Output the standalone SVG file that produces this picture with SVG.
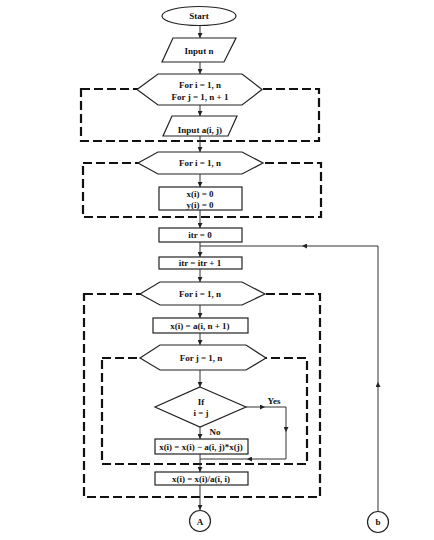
<svg xmlns="http://www.w3.org/2000/svg" width="434" height="540" viewBox="0 0 434 540">
<defs>
<marker id="ah" viewBox="0 0 6 6" refX="6" refY="3" markerWidth="5" markerHeight="5" markerUnits="userSpaceOnUse" orient="auto">
<path d="M0,0 L6,3 L0,6 z" fill="#222"/>
</marker>
<style>
.n{fill:#fff;stroke:#222;stroke-width:1.2}
.t{font-family:"Liberation Serif",serif;font-weight:bold;font-size:9px;fill:#111;text-anchor:middle}
.c{fill:none;stroke:#333;stroke-width:1}
.a{marker-end:url(#ah)}
.d{fill:none;stroke:#111;stroke-width:2.2;stroke-dasharray:9,4}
</style>
</defs>
<rect width="434" height="540" fill="#fff"/>
<g id="loops">
<rect class="d" x="81" y="89" width="238" height="52"/>
<rect class="d" x="83" y="163" width="238" height="54"/>
<rect class="d" x="84" y="294" width="236" height="203"/>
<rect class="d" x="102" y="358" width="205" height="106"/>
</g>
<g id="connectors">
<path class="c a" d="M200,25.5 V38"/>
<path class="c a" d="M200,62 V74"/>
<path class="c a" d="M200,105 V116"/>
<path class="c a" d="M200,136 V152"/>
<path class="c a" d="M200,174 V187"/>
<path class="c a" d="M200,210 V228"/>
<path class="c a" d="M200,242 V257"/>
<path class="c a" d="M200,269 V282"/>
<path class="c a" d="M200,305 V318"/>
<path class="c a" d="M200,333 V345"/>
<path class="c a" d="M200,370 V387"/>
<path class="c a" d="M200,427 V439"/>
<path class="c a" d="M200,454 V472"/>
<path class="c a" d="M200,485 V510"/>
<path class="c a" d="M246,407 H265"/>
<path class="c a" d="M265,407 H286 V432"/>
<path class="c a" d="M286,432 V459 H247"/>
<path class="c" d="M247,459 H200"/>
<path class="c a" d="M378,511 V382"/>
<path class="c a" d="M378,382 V246 H302"/>
<path class="c" d="M302,246 H200"/>
</g>
<g id="start"><ellipse class="n" cx="199" cy="16" rx="37" ry="9.5"/><text class="t" x="199" y="19">Start</text></g>
<g id="inputn"><polygon class="n" points="173,38 236,38 224,62 162,62"/><text class="t" x="199" y="54">Input n</text></g>
<g id="loop1"><polygon class="n" points="137,89.5 158,74 242,74 262,89.5 242,105 158,105"/><text class="t" x="200" y="88">For i = 1, n</text><text class="t" x="200" y="99.5">For j = 1, n + 1</text></g>
<g id="inputa"><polygon class="n" points="172,116 237,116 228,136 163,136"/><text class="t" x="200" y="132.5">Input a(i, j)</text></g>
<g id="loop2"><polygon class="n" points="138,163 158,152 242,152 263,163 242,174 158,174"/><text class="t" x="200" y="166">For i = 1, n</text></g>
<g id="init"><rect class="n" x="159" y="187" width="83" height="23"/><text class="t" x="200" y="196.5">x(i) = 0</text><text class="t" x="200" y="207.5">y(i) = 0</text></g>
<g id="itr0"><rect class="n" x="159" y="228" width="83" height="14"/><text class="t" x="200" y="238">itr = 0</text></g>
<g id="itr1"><rect class="n" x="159" y="257" width="83" height="12"/><text class="t" x="200" y="266">itr = itr + 1</text></g>
<g id="loop3"><polygon class="n" points="140,294 160,282 242,282 265,294 242,305 160,305"/><text class="t" x="200" y="297">For i = 1, n</text></g>
<g id="assign"><rect class="n" x="153" y="318" width="95" height="15"/><text class="t" x="200" y="329">x(i) = a(i, n + 1)</text></g>
<g id="loop4"><polygon class="n" points="140,358 160,345 246,345 266,358 246,370 160,370"/><text class="t" x="201" y="361">For j = 1, n</text></g>
<g id="cond"><polygon class="n" points="200,387 246,407 200,427 155,407"/><text class="t" x="201" y="405">If</text><text class="t" x="201" y="416">i = j</text><text class="t" x="274" y="404">Yes</text><text class="t" x="215" y="434.5">No</text></g>
<g id="update"><rect class="n" x="155" y="439" width="93" height="15"/><text class="t" x="201" y="450">x(i) = x(i) − a(i, j)*x(j)</text></g>
<g id="divide"><rect class="n" x="155" y="472" width="93" height="13"/><text class="t" x="201" y="481.5">x(i) = x(i)/a(i, i)</text></g>
<g id="connA"><circle class="n" cx="200" cy="521" r="10.5"/><text class="t" x="200" y="524.5">A</text></g>
<g id="connb"><circle class="n" cx="378" cy="522" r="10.5"/><text class="t" x="378" y="525">b</text></g>
</svg>
